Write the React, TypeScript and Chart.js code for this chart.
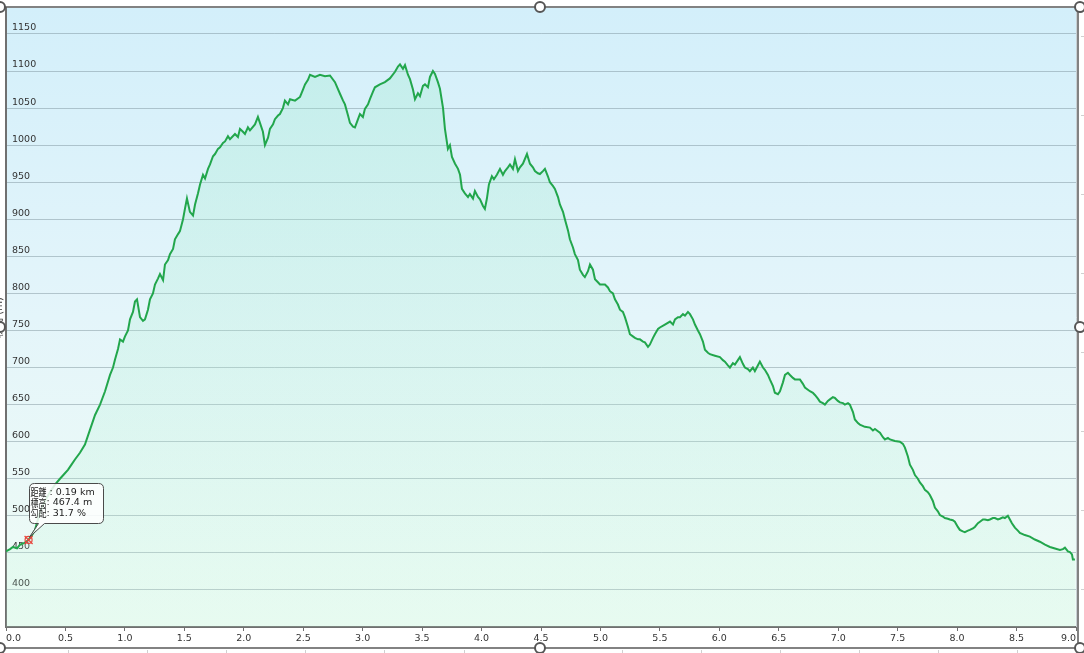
import React, { useEffect, useRef } from "react";
import { Chart, registerables } from "chart.js";

Chart.register(...registerables);

// distance along the route (km)
const distanceKm = [
  0.000, 0.034, 0.059, 0.093, 0.118, 0.151, 0.185, 0.219, 0.244, 0.286, 0.328, 0.370, 0.412, 0.454, 0.488, 0.521,
  0.555, 0.580, 0.622, 0.664, 0.706, 0.749, 0.791, 0.833, 0.875, 0.900, 0.917, 0.942, 0.959, 0.984, 1.001, 1.026,
  1.043, 1.068, 1.085, 1.102, 1.127, 1.152, 1.169, 1.194, 1.211, 1.236, 1.253, 1.278, 1.295, 1.321, 1.337, 1.363,
  1.379, 1.405, 1.421, 1.447, 1.463, 1.489, 1.505, 1.522, 1.547, 1.573, 1.590, 1.615, 1.632, 1.657, 1.674, 1.699,
  1.716, 1.741, 1.758, 1.783, 1.800, 1.825, 1.842, 1.867, 1.884, 1.926, 1.951, 1.968, 1.993, 2.010, 2.035, 2.052,
  2.094, 2.119, 2.136, 2.161, 2.178, 2.204, 2.220, 2.246, 2.262, 2.288, 2.304, 2.329, 2.346, 2.372, 2.389, 2.431,
  2.473, 2.498, 2.515, 2.540, 2.557, 2.599, 2.641, 2.683, 2.725, 2.767, 2.810, 2.835, 2.851, 2.877, 2.893, 2.919,
  2.935, 2.961, 2.977, 3.002, 3.019, 3.045, 3.061, 3.086, 3.103, 3.145, 3.187, 3.229, 3.272, 3.297, 3.314, 3.339,
  3.356, 3.381, 3.398, 3.423, 3.440, 3.465, 3.482, 3.507, 3.524, 3.549, 3.566, 3.591, 3.608, 3.633, 3.650, 3.676,
  3.692, 3.717, 3.734, 3.751, 3.777, 3.802, 3.819, 3.835, 3.860, 3.886, 3.902, 3.928, 3.944, 3.970, 3.987, 4.012,
  4.028, 4.045, 4.062, 4.087, 4.104, 4.129, 4.155, 4.180, 4.197, 4.222, 4.239, 4.264, 4.281, 4.306, 4.323, 4.348,
  4.382, 4.407, 4.432, 4.449, 4.474, 4.491, 4.516, 4.533, 4.558, 4.575, 4.600, 4.617, 4.643, 4.659, 4.685, 4.701,
  4.727, 4.743, 4.769, 4.785, 4.811, 4.827, 4.853, 4.869, 4.895, 4.912, 4.937, 4.954, 4.979, 4.996, 5.038, 5.063,
  5.080, 5.105, 5.122, 5.147, 5.164, 5.189, 5.206, 5.231, 5.248, 5.273, 5.290, 5.316, 5.332, 5.358, 5.374, 5.400,
  5.416, 5.442, 5.458, 5.484, 5.500, 5.542, 5.585, 5.610, 5.627, 5.652, 5.669, 5.694, 5.711, 5.736, 5.753, 5.778,
  5.795, 5.820, 5.837, 5.862, 5.879, 5.904, 5.921, 5.963, 6.005, 6.030, 6.047, 6.072, 6.089, 6.114, 6.131, 6.156,
  6.173, 6.198, 6.215, 6.240, 6.257, 6.282, 6.299, 6.325, 6.341, 6.367, 6.383, 6.409, 6.425, 6.451, 6.467, 6.493,
  6.510, 6.535, 6.552, 6.577, 6.594, 6.619, 6.636, 6.678, 6.703, 6.720, 6.745, 6.762, 6.787, 6.804, 6.829, 6.846,
  6.871, 6.888, 6.913, 6.930, 6.955, 6.972, 6.997, 7.014, 7.040, 7.056, 7.082, 7.098, 7.124, 7.140, 7.166, 7.182,
  7.224, 7.267, 7.292, 7.309, 7.334, 7.351, 7.376, 7.393, 7.418, 7.435, 7.477, 7.519, 7.544, 7.561, 7.586, 7.603,
  7.628, 7.645, 7.670, 7.687, 7.712, 7.729, 7.754, 7.771, 7.796, 7.813, 7.838, 7.855, 7.880, 7.897, 7.922, 7.939,
  7.964, 7.981, 8.006, 8.023, 8.048, 8.065, 8.091, 8.107, 8.133, 8.149, 8.175, 8.192, 8.217, 8.234, 8.259, 8.276,
  8.301, 8.318, 8.343, 8.360, 8.385, 8.402, 8.427, 8.444, 8.461, 8.486, 8.511, 8.528, 8.570, 8.612, 8.654, 8.696,
  8.739, 8.781, 8.823, 8.865, 8.890, 8.907, 8.932, 8.949, 8.966, 8.974, 8.991,
];

// elevation (m)
const elevationM = [
  452, 455, 458, 456, 461, 463, 467, 474, 481, 505, 520, 532, 542, 550, 556, 562,
  570, 576, 585, 596, 616, 636, 650, 668, 690, 700, 711, 725, 738, 735, 742, 750,
  765, 775, 789, 792, 768, 763, 765, 778, 792, 800, 812, 820, 826, 818, 839, 845,
  853, 860, 873, 880, 884, 900, 914, 928, 910, 905, 920, 935, 947, 960, 955, 968,
  974, 985, 988, 995, 997, 1003, 1005, 1012, 1008, 1015, 1011, 1022, 1018, 1015, 1024, 1020,
  1028, 1038, 1030, 1018, 1000, 1010, 1022, 1028, 1035, 1040, 1042, 1050, 1060, 1055, 1062, 1060,
  1065, 1075, 1082, 1088, 1095, 1092, 1095, 1093, 1094, 1085, 1069, 1060, 1055, 1040, 1030, 1025,
  1024, 1035, 1042, 1038, 1049, 1055, 1062, 1072, 1078, 1082, 1085, 1090, 1099, 1106, 1109, 1103,
  1108, 1095, 1089, 1075, 1062, 1070, 1066, 1080, 1082, 1078, 1092, 1100, 1096, 1085, 1076, 1050,
  1022, 995, 1000, 984, 975, 968, 960, 941, 935, 930, 934, 928, 938, 930, 927, 918,
  914, 928, 947, 958, 954, 960, 968, 960, 965, 970, 974, 968, 981, 965, 970, 975,
  988, 975, 970, 965, 962, 961, 965, 968, 958, 950, 945, 941, 930, 920, 910, 900,
  885, 873, 862, 853, 845, 832, 825, 822, 830, 839, 832, 819, 815, 812, 812, 808,
  803, 800, 792, 785, 778, 775, 768, 755, 745, 742, 740, 738, 738, 735, 734, 728,
  731, 740, 745, 752, 754, 758, 762, 758, 765, 768, 768, 772, 770, 775, 772, 765,
  758, 750, 745, 735, 724, 720, 718, 716, 714, 710, 708, 703, 700, 706, 704, 710,
  714, 705, 700, 698, 695, 700, 695, 703, 708, 700, 697, 690, 684, 675, 666, 664,
  668, 680, 690, 693, 690, 686, 684, 684, 678, 673, 670, 668, 666, 663, 658, 654,
  652, 650, 655, 657, 660, 659, 655, 653, 652, 650, 652, 650, 640, 630, 625, 623,
  620, 619, 615, 617, 614, 612, 606, 603, 605, 603, 601, 600, 597, 592, 580, 569,
  562, 555, 550, 545, 540, 535, 532, 528, 520, 511, 506, 501, 499, 497, 496, 495,
  494, 492, 485, 481, 479, 478, 480, 481, 483, 485, 490, 492, 495, 495, 494, 495,
  497, 497, 495, 496, 498, 497, 500, 495, 490, 484, 480, 477, 474, 472, 468, 465,
  461, 458, 456, 454, 455, 457, 452, 451, 448, 441, 441,
];

const xTickValues = [0, 0.5, 1, 1.5, 2, 2.5, 3, 3.5, 4, 4.5, 5, 5.5, 6, 6.5, 7, 7.5, 8, 8.5, 9];
const yTickValues = [400, 450, 500, 550, 600, 650, 700, 750, 800, 850, 900, 950, 1000, 1050, 1100, 1150];
const xMin = 0;
const xMax = 9;
const yMin = 350;
const yMax = 1185;

const yAxisTitle = "標高 (m)";
const cursorKm = 0.19;
const cursorElev = 467.4;
const cursorSlope = 31.7;
const tooltipLabels = ["距離", "標高", "勾配"];

const FONT = "'DejaVu Sans', 'Noto Sans CJK JP', sans-serif";

const decorPlugin = {
  id: "decor",
  beforeDraw(chart: any) {
    const { ctx, chartArea: a, width, height } = chart;
    ctx.save();
    ctx.fillStyle = "#ffffff";
    ctx.fillRect(0, 0, width, height);
    const g = ctx.createLinearGradient(0, a.top, 0, a.bottom);
    g.addColorStop(0, "#d3effa");
    g.addColorStop(0.5, "#e4f5fa");
    g.addColorStop(1, "#effcf5");
    ctx.fillStyle = g;
    ctx.fillRect(a.left, a.top, a.right - a.left, a.bottom - a.top);
    ctx.restore();
  },
  afterDraw(chart: any) {
    const { ctx, chartArea: a } = chart;
    const xs = chart.scales.x;
    const ys = chart.scales.y;
    ctx.save();

    // right light border of the plot
    ctx.strokeStyle = "#c8d0d4";
    ctx.lineWidth = 1;
    ctx.beginPath();
    ctx.moveTo(a.right + 0.5, a.top);
    ctx.lineTo(a.right + 0.5, a.bottom);
    ctx.stroke();

    // rotated y-axis title (mostly clipped)
    ctx.save();
    ctx.translate(-1, (a.top + a.bottom) / 2);
    ctx.rotate(-Math.PI / 2);
    ctx.fillStyle = "#333";
    ctx.font = `10px ${FONT}`;
    ctx.textAlign = "center";
    ctx.textBaseline = "middle";
    ctx.fillText(yAxisTitle, 0, 0);
    ctx.restore();

    // ruler ticks outside the frame
    ctx.strokeStyle = "#d0d0d0";
    ctx.lineWidth = 1;
    for (let x = 68; x < 1084; x += 79.1) {
      ctx.beginPath();
      ctx.moveTo(Math.round(x) + 0.5, 650);
      ctx.lineTo(Math.round(x) + 0.5, 653);
      ctx.stroke();
    }
    for (let y = 36; y < 640; y += 79) {
      ctx.beginPath();
      ctx.moveTo(1081, y + 0.5);
      ctx.lineTo(1084, y + 0.5);
      ctx.stroke();
    }

    // selection frame
    ctx.strokeStyle = "#5a5a5a";
    ctx.lineWidth = 1.5;
    ctx.beginPath();
    ctx.moveTo(0, 7);
    ctx.lineTo(1078, 7);
    ctx.lineTo(1078, 648);
    ctx.lineTo(0, 648);
    ctx.stroke();

    const handles = [
      [0, 7], [540, 7], [1080, 7],
      [0, 327], [1080, 327],
      [0, 648], [540, 648], [1080, 648],
    ];
    handles.forEach(([hx, hy]) => {
      ctx.beginPath();
      ctx.arc(hx, hy, 5, 0, Math.PI * 2);
      ctx.fillStyle = "#ffffff";
      ctx.fill();
      ctx.lineWidth = 2;
      ctx.strokeStyle = "#555";
      ctx.stroke();
    });

    // cursor marker
    const px = xs.getPixelForValue(cursorKm);
    const py = ys.getPixelForValue(cursorElev);
    ctx.strokeStyle = "#e8453c";
    ctx.lineWidth = 1.2;
    ctx.beginPath();
    ctx.arc(px, py, 3.5, 0, Math.PI * 2);
    ctx.stroke();
    ctx.beginPath();
    ctx.moveTo(px - 4, py - 4);
    ctx.lineTo(px + 4, py + 4);
    ctx.moveTo(px + 4, py - 4);
    ctx.lineTo(px - 4, py + 4);
    ctx.stroke();

    // tooltip with tail
    const bx = Math.round(px) + 0.5;
    const by = Math.round(py) - 56.5;
    const bw = 74;
    const bh = 40;
    const r = 5;
    ctx.beginPath();
    ctx.moveTo(bx + r, by);
    ctx.lineTo(bx + bw - r, by);
    ctx.quadraticCurveTo(bx + bw, by, bx + bw, by + r);
    ctx.lineTo(bx + bw, by + bh - r);
    ctx.quadraticCurveTo(bx + bw, by + bh, bx + bw - r, by + bh);
    ctx.lineTo(bx + 15, by + bh);
    ctx.lineTo(px + 1, py - 3);
    ctx.lineTo(bx + 9, by + bh);
    ctx.lineTo(bx + r, by + bh);
    ctx.quadraticCurveTo(bx, by + bh, bx, by + bh - r);
    ctx.lineTo(bx, by + r);
    ctx.quadraticCurveTo(bx, by, bx + r, by);
    ctx.closePath();
    ctx.fillStyle = "rgba(255,255,255,0.85)";
    ctx.fill();
    ctx.strokeStyle = "#4a4a4a";
    ctx.lineWidth = 1;
    ctx.stroke();

    ctx.fillStyle = "#222";
    ctx.textBaseline = "middle";
    ctx.textAlign = "left";
    const values = [
      `: ${cursorKm.toFixed(2)} km`,
      `: ${cursorElev.toFixed(1)} m`,
      `: ${cursorSlope.toFixed(1)} %`,
    ];
    const colonX = [bx + 20, bx + 17, bx + 17];
    for (let i = 0; i < 3; i++) {
      const ty = by + 9 + i * 10.5;
      ctx.font = `10.5px 'Noto Sans CJK JP', sans-serif`;
      ctx.fillText(tooltipLabels[i], bx + 1, ty, 16);
      ctx.font = `9.5px ${FONT}`;
      ctx.fillText(values[i], colonX[i], ty);
    }
    ctx.restore();
  },
};

export default function App() {
  const ref = useRef<HTMLCanvasElement>(null);

  useEffect(() => {
    if (!ref.current) return;
    const points = distanceKm.map((d, i) => ({ x: d, y: elevationM[i] }));
    const chart = new Chart(ref.current, {
      type: "line",
      data: {
        datasets: [
          {
            data: points,
            borderColor: "#22a64c",
            borderWidth: 2,
            pointRadius: 0,
            tension: 0,
            fill: "start",
            backgroundColor: (c: any) => {
              const a = c.chart.chartArea;
              if (!a) return "rgba(150,230,190,0.25)";
              const g = c.chart.ctx.createLinearGradient(0, a.top, 0, a.bottom);
              g.addColorStop(0, "rgba(150,232,200,0.3)");
              g.addColorStop(1, "rgba(190,245,215,0.16)");
              return g;
            },
          },
        ],
      },
      options: {
        responsive: false,
        animation: false,
        events: [],
        layout: { padding: { left: 6, top: 8, right: 8, bottom: 0 } },
        plugins: {
          legend: { display: false },
          tooltip: { enabled: false },
          title: { display: false },
        },
        scales: {
          x: {
            type: "linear",
            min: xMin,
            max: xMax,
            afterBuildTicks: (s: any) => {
              s.ticks = xTickValues.map((v) => ({ value: v }));
            },
            afterFit: (s: any) => {
              s.height = 26;
              s.paddingLeft = 0;
              s.paddingRight = 0;
              s.paddingTop = 0;
              s.paddingBottom = 0;
            },
            grid: {
              drawOnChartArea: false,
              drawTicks: true,
              tickLength: 4,
              color: "#707070",
            },
            border: { display: true, color: "#707070", width: 2 },
            ticks: {
              align: "inner",
              maxRotation: 0,
              autoSkip: false,
              padding: 2,
              color: "#333",
              font: { family: FONT, size: 9.5 },
              callback: (v: any) => Number(v).toFixed(1),
            },
          },
          y: {
            type: "linear",
            min: yMin,
            max: yMax,
            afterBuildTicks: (s: any) => {
              s.ticks = yTickValues.map((v) => ({ value: v }));
            },
            afterFit: (s: any) => {
              s.width = 0;
              s.paddingTop = 0;
              s.paddingBottom = 0;
              s.paddingLeft = 0;
              s.paddingRight = 0;
            },
            grid: {
              drawTicks: false,
              color: "rgba(110,130,140,0.42)",
              lineWidth: 1,
            },
            border: { display: true, color: "#707070", width: 2 },
            ticks: {
              mirror: true,
              padding: 6,
              labelOffset: -6,
              color: "#333",
              font: { family: FONT, size: 9.5 },
              callback: (v: any) => String(v),
            },
          },
        },
      },
      plugins: [decorPlugin],
    });
    return () => chart.destroy();
  }, []);

  return (
    <div style={{ position: "fixed", left: 0, top: 0, width: 1084, height: 653, background: "#fff" }}>
      <canvas ref={ref} width={1084} height={653} style={{ display: "block", width: 1084, height: 653 }} />
    </div>
  );
}
